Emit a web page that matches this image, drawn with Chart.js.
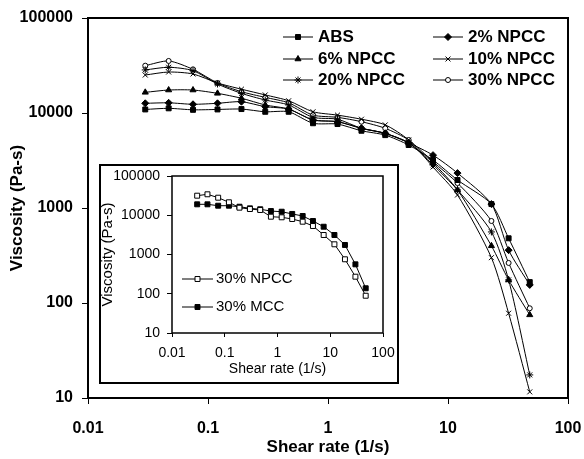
<!DOCTYPE html>
<html><head><meta charset="utf-8">
<script src="https://cdn.jsdelivr.net/npm/chart.js@4"></script>
<style>
html,body{margin:0;padding:0;background:#fff;}
#wrap{position:relative;width:584px;height:459px;}
#main{position:absolute;left:0;top:0;}
#inset{position:absolute;left:99px;top:164px;}
</style></head><body>
<div id="wrap">
<canvas id="main" width="584" height="459"></canvas>
<canvas id="inset" width="300" height="220"></canvas>
</div>
<script>
// ---- main chart data ----
const shearRate = [0.03, 0.047, 0.075, 0.12, 0.19, 0.3, 0.47, 0.75, 1.2, 1.9, 3.0, 4.7, 7.5, 12, 23, 32, 48];
const viscABS   = [10900, 11200, 10800, 10900, 11000, 10300, 10300, 7800, 7650, 6500, 5850, 4600, 3200, 1970, 1100, 480, 166];
const visc2     = [12650, 12800, 12350, 12650, 13150, 11650, 11000, 8450, 8100, 6900, 6100, 4850, 3600, 2330, 1100, 360, 155];
const visc6     = [16500, 17450, 17450, 16100, 14300, 12150, 11000, 8450, 8100, 6900, 6100, 4850, 2980, 1550, 400, 175, 75];
const visc10    = [25100, 27000, 25750, 20700, 17800, 15500, 13450, 10300, 9500, 8600, 7500, 5200, 2700, 1370, 300, 78, 11.6];
const visc20    = [28400, 30300, 27900, 20200, 16100, 13700, 12150, 9000, 8600, 6900, 6100, 4850, 2840, 1550, 560, 175, 17.5];
const visc30    = [31500, 35300, 28800, 20700, 16750, 14600, 12800, 9500, 9000, 8100, 6900, 5200, 3070, 1830, 730, 264, 88];
const seriesLabels = ['ABS', '2% NPCC', '6% NPCC', '10% NPCC', '20% NPCC', '30% NPCC'];

// ---- inset data ----
const insetRate   = [0.03, 0.047, 0.075, 0.12, 0.19, 0.3, 0.47, 0.75, 1.2, 1.9, 3.0, 4.7, 7.5, 12, 19, 30, 47];
const insetNPCC30 = [31500, 34200, 28000, 21400, 15600, 14400, 13600, 9180, 8870, 8020, 6850, 5320, 3140, 1820, 755, 272, 89];
const insetMCC30  = [19000, 19000, 17500, 17500, 16500, 15000, 14200, 12800, 12300, 10800, 9570, 7140, 5100, 3140, 1750, 562, 138];
const insetLabels = ['30% NPCC', '30% MCC'];

// ---- ticks ----
const viscTicks = [10, 100, 1000, 10000, 100000];
const rateTicks = [0.01, 0.1, 1, 10, 100];

const FONT = "'Liberation Sans', Arial, sans-serif";
Chart.defaults.font.family = FONT;
Chart.defaults.color = '#000';

function pts(xs, ys) { return xs.map((x, i) => ({x: x, y: ys[i]})); }

function drawMarker(ctx, style, radius, x, y, fill) {
  ctx.save();
  ctx.fillStyle = fill; ctx.strokeStyle = '#000'; ctx.lineWidth = 1;
  if (Chart.helpers && Chart.helpers.drawPoint) {
    Chart.helpers.drawPoint(ctx, {pointStyle: style, radius: radius, borderWidth: 1, rotation: 0}, x, y);
  } else {
    ctx.beginPath(); ctx.arc(x, y, radius, 0, Math.PI * 2); ctx.fill(); ctx.stroke();
  }
  ctx.restore();
}

const whiteBg = {
  id: 'whiteBg',
  beforeDraw(chart) {
    const c = chart.ctx; c.save(); c.fillStyle = '#fff';
    c.fillRect(0, 0, chart.width, chart.height); c.restore();
  }
};
const frameBox = {
  id: 'frameBox',
  beforeDatasetsDraw(chart, args, opts) {
    const a = chart.chartArea, c = chart.ctx;
    c.save(); c.strokeStyle = '#000'; c.lineWidth = opts.width || 2;
    c.strokeRect(a.left, a.top, a.right - a.left, a.bottom - a.top);
    if (opts.outer) {
      c.lineWidth = opts.outer;
      c.strokeRect(opts.outer / 2, opts.outer / 2, chart.width - opts.outer, chart.height - opts.outer);
    }
    c.restore();
  }
};
const boxLegend = {
  id: 'boxLegend',
  afterDraw(chart, args, opts) {
    const ctx = chart.ctx;
    chart.data.datasets.forEach((ds, i) => {
      const x0 = opts.cols[i % opts.cols.length];
      const y = opts.rows[Math.floor(i / opts.cols.length)];
      ctx.save();
      ctx.strokeStyle = '#000'; ctx.lineWidth = 1;
      ctx.beginPath(); ctx.moveTo(x0, y); ctx.lineTo(x0 + opts.lineLen, y); ctx.stroke();
      ctx.restore();
      drawMarker(ctx, ds.pointStyle, ds.pointRadius, x0 + opts.lineLen / 2, y, ds.pointBackgroundColor);
      ctx.save();
      ctx.fillStyle = '#000'; ctx.font = opts.font; ctx.textBaseline = 'middle'; ctx.textAlign = 'left';
      ctx.fillText(ds.label, x0 + opts.lineLen + opts.gap, y);
      ctx.restore();
    });
  }
};

function mkDs(label, ys, style, radius, fill) {
  return {
    label: label, data: pts(shearRate, ys),
    borderColor: '#000', borderWidth: 1,
    pointStyle: style, pointRadius: radius, pointBackgroundColor: fill,
    pointBorderColor: '#000', pointBorderWidth: 1, tension: 0.25
  };
}

new Chart(document.getElementById('main'), {
  type: 'line',
  data: {
    datasets: [
      mkDs(seriesLabels[0], viscABS, 'rect', 3.5, '#000'),
      mkDs(seriesLabels[1], visc2, 'rectRot', 3.5, '#000'),
      mkDs(seriesLabels[2], visc6, 'triangle', 3.5, '#000'),
      mkDs(seriesLabels[3], visc10, 'crossRot', 3.5, '#000'),
      mkDs(seriesLabels[4], visc20, 'star', 3.5, '#000'),
      mkDs(seriesLabels[5], visc30, 'circle', 2.5, '#fff')
    ]
  },
  options: {
    responsive: false, animation: false,
    layout: {autoPadding: false, padding: {left: 0, top: 18, right: 16, bottom: 0}},
    plugins: {
      legend: {display: false}, tooltip: {enabled: false},
      frameBox: {width: 2},
      boxLegend: {cols: [283, 433], rows: [37, 59, 80], lineLen: 30, gap: 5, font: "bold 17px " + FONT}
    },
    scales: {
      x: {
        type: 'logarithmic', min: 0.01, max: 100,
        afterBuildTicks(s) { s.ticks = rateTicks.map(v => ({value: v})); },
        afterFit(s) { s.height = 61; s.paddingLeft = 0; s.paddingRight = 0; },
        ticks: {callback: v => String(v), font: {size: 16, weight: 'bold'}, padding: 15, maxRotation: 0, autoSkip: false},
        grid: {display: true, drawOnChartArea: false, drawTicks: true, tickLength: 6, color: '#000'},
        border: {display: false},
        title: {display: true, text: 'Shear rate (1/s)', font: {size: 17, weight: 'bold'}, padding: {top: 0, bottom: 1}}
      },
      y: {
        type: 'logarithmic', min: 10, max: 100000,
        afterBuildTicks(s) { s.ticks = viscTicks.map(v => ({value: v})); },
        afterFit(s) { s.width = 88; s.paddingTop = 0; s.paddingBottom = 0; },
        ticks: {callback: v => String(v), font: {size: 16, weight: 'bold'}, padding: 9, autoSkip: false},
        grid: {display: true, drawOnChartArea: false, drawTicks: true, tickLength: 6, color: '#000'},
        border: {display: false},
        title: {display: true, text: 'Viscosity (Pa-s)', font: {size: 17, weight: 'bold'}, padding: {top: 7, bottom: 0}}
      }
    }
  },
  plugins: [whiteBg, frameBox, boxLegend]
});

function mkInsetDs(label, ys, fill) {
  return {
    label: label, data: pts(insetRate, ys),
    borderColor: '#000', borderWidth: 1,
    pointStyle: 'rect', pointRadius: 3.5, pointBackgroundColor: fill,
    pointBorderColor: '#000', pointBorderWidth: 1, tension: 0
  };
}

new Chart(document.getElementById('inset'), {
  type: 'line',
  data: {
    datasets: [
      mkInsetDs(insetLabels[0], insetNPCC30, '#fff'),
      mkInsetDs(insetLabels[1], insetMCC30, '#000')
    ]
  },
  options: {
    responsive: false, animation: false,
    layout: {autoPadding: false, padding: {left: 0, top: 12, right: 16, bottom: 0}},
    plugins: {
      legend: {display: false}, tooltip: {enabled: false},
      frameBox: {width: 1.5, outer: 2},
      boxLegend: {cols: [83], rows: [115, 143], lineLen: 31, gap: 3, font: "15px " + FONT}
    },
    scales: {
      x: {
        type: 'logarithmic', min: 0.01, max: 100,
        afterBuildTicks(s) { s.ticks = rateTicks.map(v => ({value: v})); },
        afterFit(s) { s.height = 51; s.paddingLeft = 0; s.paddingRight = 0; },
        ticks: {callback: v => String(v), font: {size: 14}, padding: 8, maxRotation: 0, autoSkip: false},
        grid: {display: true, drawOnChartArea: false, drawTicks: true, tickLength: 4, color: '#000'},
        border: {display: false},
        title: {display: true, text: 'Shear rate (1/s)', font: {size: 14}, padding: {top: 0, bottom: 6}}
      },
      y: {
        type: 'logarithmic', min: 10, max: 100000,
        afterBuildTicks(s) { s.ticks = viscTicks.map(v => ({value: v})); },
        afterFit(s) { s.width = 73; s.paddingTop = 0; s.paddingBottom = 0; },
        ticks: {callback: v => String(v), font: {size: 14}, padding: 7, autoSkip: false},
        grid: {display: true, drawOnChartArea: false, drawTicks: true, tickLength: 5, color: '#000'},
        border: {display: false},
        title: {display: true, text: 'Viscosity (Pa-s)', font: {size: 15}, padding: {top: 0, bottom: 0}}
      }
    }
  },
  plugins: [whiteBg, frameBox, boxLegend]
});
</script>
</body></html>
